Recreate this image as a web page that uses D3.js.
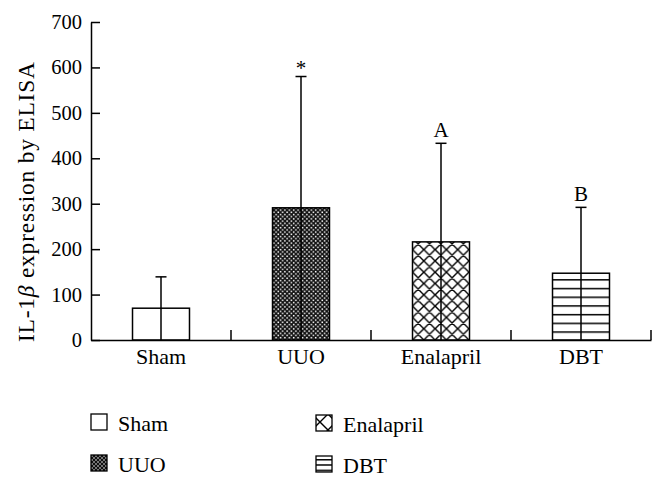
<!DOCTYPE html>
<html><head><meta charset="utf-8">
<script src="https://cdn.jsdelivr.net/npm/d3@7"></script>
<style>
html,body{margin:0;padding:0;background:#fff;}
svg text{font-family:"Liberation Serif","DejaVu Serif",serif;fill:#000;}
</style></head>
<body>
<svg id="chart" width="666" height="486"></svg>
<script>
const categories = ["Sham", "UUO", "Enalapril", "DBT"];
const means = [70, 291, 216, 147];
const errorTops = [139, 580, 433, 292];
const sigLabels = ["", "*", "A", "B"];
const yTicks = [0, 100, 200, 300, 400, 500, 600, 700];
const yLabelPre = "IL-1";
const yLabelPost = " expression by ELISA";

const svg = d3.select("#chart");
const defs = svg.append("defs");

function checker(id, s) {
  const p = defs.append("pattern").attr("id", id).attr("patternUnits", "userSpaceOnUse")
    .attr("width", s * 2).attr("height", s * 2);
  p.append("rect").attr("width", s * 2).attr("height", s * 2).attr("fill", "#111");
  p.append("rect").attr("x", 0.35).attr("y", 0.35).attr("width", s - 0.7).attr("height", s - 0.7).attr("fill", "#fff");
  p.append("rect").attr("x", s + 0.35).attr("y", s + 0.35).attr("width", s - 0.7).attr("height", s - 0.7).attr("fill", "#fff");
}
function cross(id, s, x0, y0) {
  const p = defs.append("pattern").attr("id", id).attr("patternUnits", "userSpaceOnUse")
    .attr("width", s).attr("height", s).attr("x", x0).attr("y", y0);
  p.append("rect").attr("width", s).attr("height", s).attr("fill", "#fff");
  p.append("path").attr("d", `M0,0L${s},${s}M${s},0L0,${s}M-1,1L1,-1M${s-1},${s+1}L${s+1},${s-1}M-1,${s-1}L1,${s+1}M${s-1},-1L${s+1},1`)
    .attr("stroke", "#000").attr("stroke-width", 1.4);
}
function hlines(id, s, y0) {
  const p = defs.append("pattern").attr("id", id).attr("patternUnits", "userSpaceOnUse")
    .attr("width", 20).attr("height", s).attr("y", y0);
  p.append("rect").attr("width", 20).attr("height", s).attr("fill", "#fff");
  p.append("line").attr("x1", 0).attr("x2", 20).attr("y1", 0.75).attr("y2", 0.75)
    .attr("stroke", "#000").attr("stroke-width", 1.5);
}

const x = d3.scaleBand().domain(categories).range([91, 651]).paddingInner(0.593).paddingOuter(0.2965);
const y = d3.scaleLinear().domain([0, 700]).range([340, 22]);

checker("pChk", 2.2);
cross("pX", 11.3, x("Enalapril"), y(0));
hlines("pH", 8.7, y(0));
const fills = ["#fff", "url(#pChk)", "url(#pX)", "url(#pH)"];

const cx = d => x(d) + x.bandwidth() / 2;

// bars
const g = svg.append("g");
g.selectAll("rect.bar").data(categories).join("rect").attr("class", "bar")
  .attr("x", d => x(d)).attr("width", x.bandwidth())
  .attr("y", (d, i) => y(means[i])).attr("height", (d, i) => y(0) - y(means[i]))
  .attr("fill", (d, i) => fills[i]).attr("stroke", "#000").attr("stroke-width", 1.5);

// error bars
g.selectAll("line.err").data(categories).join("line").attr("class", "err")
  .attr("x1", cx).attr("x2", cx)
  .attr("y1", y(0)).attr("y2", (d, i) => y(errorTops[i]))
  .attr("stroke", "#000").attr("stroke-width", 1.5);
g.selectAll("line.cap").data(categories).join("line").attr("class", "cap")
  .attr("x1", d => cx(d) - 5.5).attr("x2", d => cx(d) + 5.5)
  .attr("y1", (d, i) => y(errorTops[i])).attr("y2", (d, i) => y(errorTops[i]))
  .attr("stroke", "#000").attr("stroke-width", 1.5);
g.selectAll("text.sig").data(categories).join("text").attr("class", "sig")
  .attr("x", cx).attr("y", (d, i) => y(errorTops[i]) - (sigLabels[i] === "*" ? 2 : 6))
  .attr("text-anchor", "middle").attr("font-size", 21).text((d, i) => sigLabels[i]);

// y axis
const yAxis = svg.append("g").attr("transform", "translate(91,0)")
  .call(d3.axisLeft(y).tickValues(yTicks).tickFormat(d3.format("d")).tickSizeInner(-9).tickSizeOuter(0).tickPadding(9));
yAxis.selectAll("text").attr("font-size", 20.5).attr("font-family", "Liberation Serif");
yAxis.selectAll("line,path").attr("stroke", "#000").attr("stroke-width", 1.5);

// x axis
const xAxis = svg.append("g").attr("transform", `translate(0,${y(0)})`)
  .call(d3.axisBottom(x).tickSize(0).tickPadding(8));
xAxis.select("path").attr("stroke", "#000").attr("stroke-width", 1.5);
xAxis.selectAll("text").attr("font-size", 22).attr("font-family", "Liberation Serif");
// boundary ticks between categories
svg.append("g").selectAll("line").data(categories).join("line")
  .attr("x1", d => x(d) + x.bandwidth() + (x.step() - x.bandwidth()) / 2)
  .attr("x2", d => x(d) + x.bandwidth() + (x.step() - x.bandwidth()) / 2)
  .attr("y1", y(0)).attr("y2", y(0) - 10)
  .attr("stroke", "#000").attr("stroke-width", 1.5);

// y label
const yl = svg.append("text").attr("transform", "translate(34,202) rotate(-90)")
  .attr("text-anchor", "middle").attr("font-size", 23.5)
  .attr("textLength", 280).attr("lengthAdjust", "spacing");
yl.append("tspan").text(yLabelPre);
yl.append("tspan").attr("font-style", "italic").text("\u03B2");
yl.append("tspan").text(yLabelPost);

// legend
checker("pChkL", 2);
cross("pXL", 16, 316, 415);
hlines("pHL", 5.33, 456);
const legFills = ["#fff", "url(#pChkL)", "url(#pXL)", "url(#pHL)"];
const legPos = [[91, 414], [91, 455], [316, 415], [316, 456]];
const leg = svg.append("g");
const items = leg.selectAll("g").data(categories).join("g")
  .attr("transform", (d, i) => `translate(${legPos[i][0]},${legPos[i][1]})`);
items.append("rect").attr("width", 16).attr("height", 16)
  .attr("fill", (d, i) => legFills[i]).attr("stroke", "#000").attr("stroke-width", 1.3);
items.append("text").attr("x", 27).attr("y", 17).attr("font-size", 22).text(d => d);
</script>
</body></html>
